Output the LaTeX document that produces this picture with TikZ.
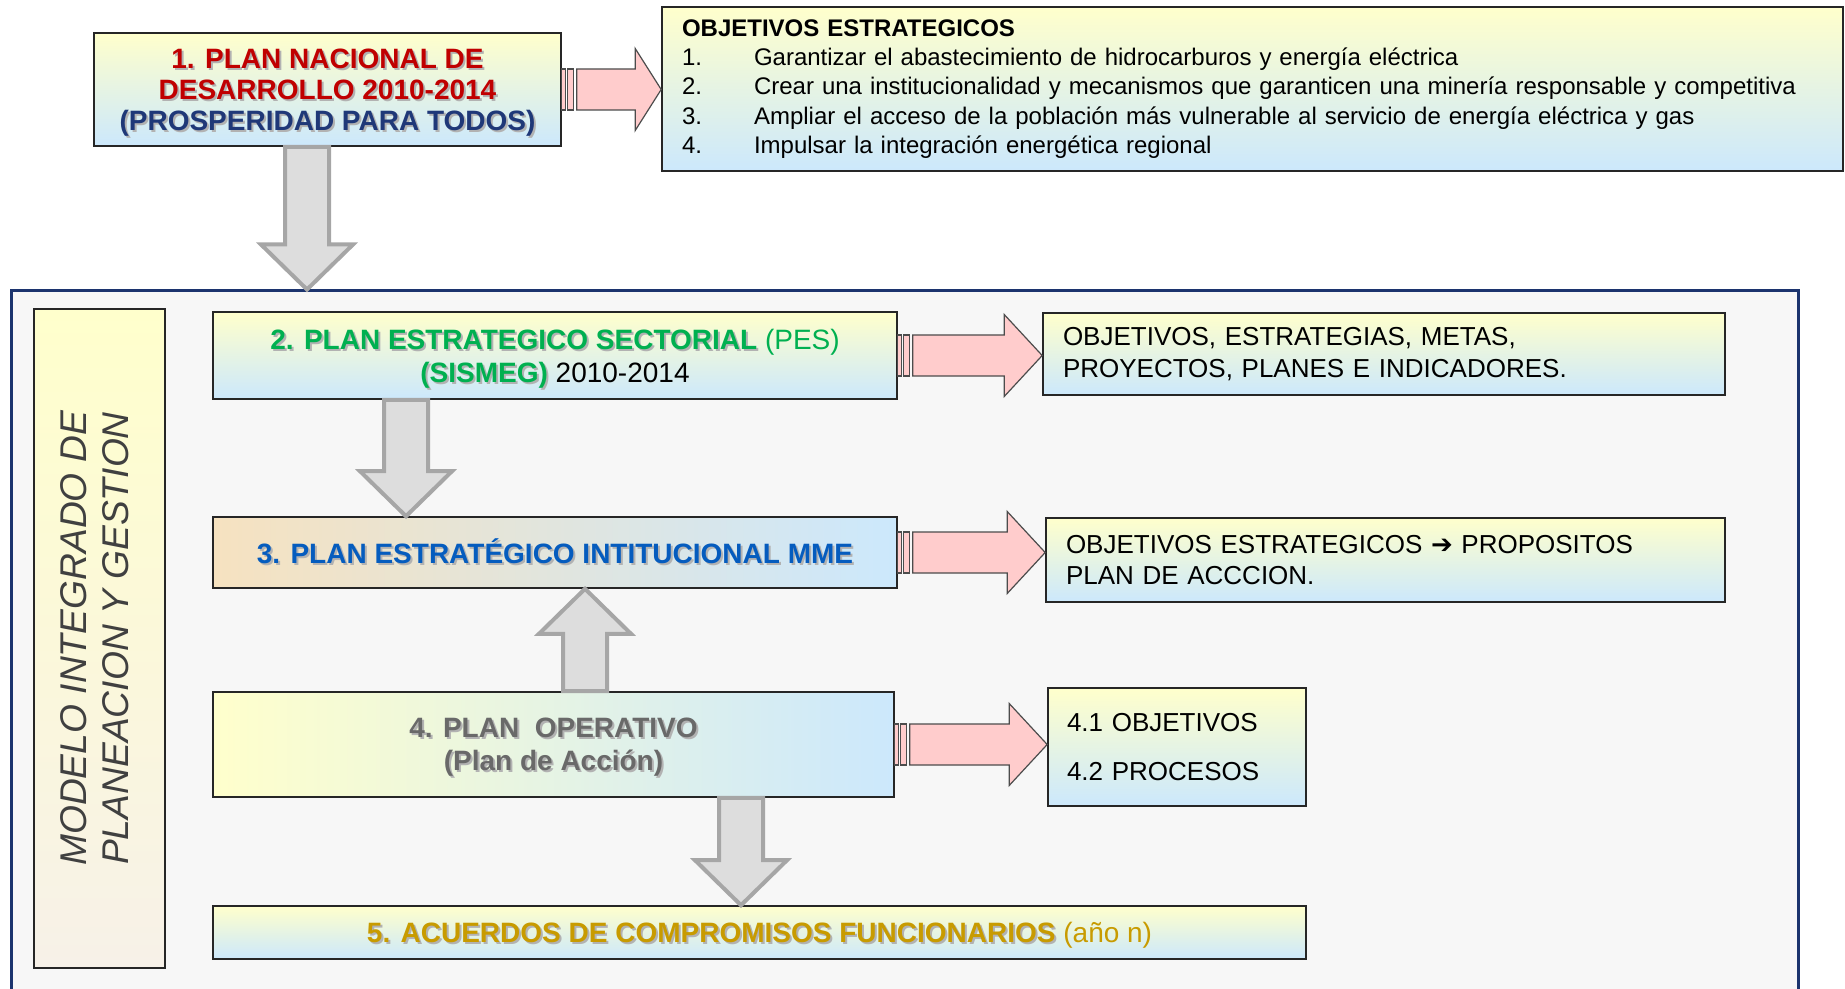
\documentclass[tikz,border=0pt]{standalone}
\usepackage{fontspec}
\setmainfont{Liberation Sans}
\newfontfamily\symfont{DejaVu Sans}
\usepackage{graphicx}
\usepackage{tikz}
\usetikzlibrary{calc}

\definecolor{ylw}{RGB}{255,255,204}
\definecolor{lblu}{RGB}{204,232,252}
\definecolor{peach}{RGB}{246,226,192}
\definecolor{beige}{RGB}{247,241,232}
\definecolor{redtxt}{RGB}{192,0,0}
\definecolor{navytxt}{RGB}{31,56,120}
\definecolor{greentxt}{RGB}{0,176,80}
\definecolor{bluetxt}{RGB}{5,92,190}
\definecolor{graytxt}{RGB}{105,105,105}
\definecolor{goldtxt}{RGB}{200,155,0}
\definecolor{labtxt}{RGB}{64,64,64}
\definecolor{framebd}{RGB}{28,52,110}
\definecolor{framebg}{RGB}{247,247,247}
\definecolor{pinkfill}{RGB}{255,204,204}
\definecolor{arrowfill}{RGB}{221,221,221}
\definecolor{arrowbd}{RGB}{166,166,166}

\newcommand{\shad}[2]{\leavevmode\rlap{\kern1pt\raisebox{-1pt}{\textcolor{black!30}{#2}}}\textcolor{#1}{#2}}

\newcommand{\stripearrow}[3]{%
  \coordinate (sa) at (#1.east);
  \coordinate (sb) at (#2.west |- #1.east);
  \draw[pinkarrow] ($(sa)+(0,-20.5)$) rectangle ($(sa)+(4,20.5)$);
  \draw[pinkarrow] ($(sa)+(6,-20.5)$) rectangle ($(sa)+(12,20.5)$);
  \draw[pinkarrow] ($(sa)+(15,-20.5)$) -- ($(sb)+(-#3,-20.5)$) -- ($(sb)+(-#3,-41)$) -- (sb)
    -- ($(sb)+(-#3,41)$) -- ($(sb)+(-#3,20.5)$) -- ($(sa)+(15,20.5)$) -- cycle;
}

\newcommand{\blockarrow}[2]{%
  \coordinate (ga) at (#1);
  \coordinate (gb) at (#2);
  \coordinate (gh) at ($(gb)!22.5pt!(ga)$);
  \draw[grayarrow] ($(ga)!11pt!90:(gb)$) -- ($(gh)!11pt!90:(gb)$) -- ($(gh)!23pt!90:(gb)$) -- (gb)
    -- ($(gh)!23pt!-90:(gb)$) -- ($(gh)!11pt!-90:(gb)$) -- ($(ga)!11pt!-90:(gb)$) -- cycle;
}

\begin{document}
\begin{tikzpicture}[x=0.5pt,y=-0.5pt]

\tikzset{planv/.style = {shape=rectangle,draw=black!85,line width=0.8pt,inner sep=0pt,
  top color=ylw,bottom color=lblu,align=center}}
\tikzset{planh/.style = {shape=rectangle,draw=black!85,line width=0.8pt,inner sep=0pt,
  left color=ylw,right color=lblu,align=center}}
\tikzset{pinkarrow/.style = {fill=pinkfill,draw=black!70,line width=0.6pt}}
\tikzset{grayarrow/.style = {fill=arrowfill,draw=arrowbd,line width=2pt,line join=miter}}

\useasboundingbox (0,0) rectangle (1845,989);
\clip (0,0) rectangle (1845,989);

\node[draw=framebd,line width=1.5pt,fill=framebg,inner sep=0pt,
  minimum width=893.5pt,minimum height=354.5pt] (frame) at (904.5,645.5) {};

\node[planv,minimum width=233.5pt,minimum height=56.5pt,text depth=0pt,
  font=\fontsize{14}{15.6}\selectfont\bfseries] (n1) at (327.5,89.5)
  {\shad{redtxt}{1. PLAN NACIONAL DE}\\
   \shad{redtxt}{DESARROLLO 2010-2014}\\
   \shad{navytxt}{(PROSPERIDAD PARA TODOS)}};

\node[planv,minimum width=590.5pt,minimum height=82pt,text width=570.5pt,align=left,
  font=\fontsize{12}{14.7}\selectfont] (obj) at (1252.5,89)
  {{\bfseries OBJETIVOS ESTRATEGICOS}\\
   \makebox[36pt][l]{1.}Garantizar el abastecimiento de hidrocarburos y energía eléctrica\\
   \makebox[36pt][l]{2.}Crear una institucionalidad y mecanismos que garanticen una minería responsable y competitiva\\
   \makebox[36pt][l]{3.}Ampliar el acceso de la población más vulnerable al servicio de energía eléctrica y gas\\
   \makebox[36pt][l]{4.}Impulsar la integración energética regional};

\node[planv,top color=ylw,bottom color=beige,minimum width=65.5pt,minimum height=329.5pt] (lab) at (99.5,638.5)
  {\rotatebox{90}{\fontsize{18.6}{21}\selectfont\itshape\color{labtxt}%
   \begin{tabular}{@{}c@{}}MODELO INTEGRADO DE\\ PLANEACION Y GESTION\end{tabular}}};

\node[planv,minimum width=342pt,minimum height=43.5pt,text depth=0pt,
  font=\fontsize{14}{16.5}\selectfont] (n2) at (555,355.5)
  {\shad{greentxt}{\bfseries 2. PLAN ESTRATEGICO SECTORIAL} \textcolor{greentxt}{(PES)}\\
   \shad{greentxt}{\bfseries (SISMEG)} 2010-2014};

\node[planv,minimum width=341pt,minimum height=41pt,text width=321pt,align=left,
  font=\fontsize{13}{16}\selectfont] (r2) at (1384,354)
  {OBJETIVOS, ESTRATEGIAS, METAS,\\
   PROYECTOS, PLANES E INDICADORES.};

\node[planh,left color=peach,right color=lblu,minimum width=342pt,minimum height=35.5pt,
  font=\fontsize{14}{16}\selectfont\bfseries] (n3) at (555,552.5)
  {\shad{bluetxt}{3. PLAN ESTRATÉGICO INTITUCIONAL MME}};

\node[planv,minimum width=339.5pt,minimum height=42pt,text width=319.5pt,align=left,
  font=\fontsize{13}{15.5}\selectfont] (r3) at (1385.5,560)
  {OBJETIVOS ESTRATEGICOS {\symfont ➔} PROPOSITOS\\
   PLAN DE ACCCION.};

\node[planh,minimum width=340.5pt,minimum height=52.5pt,text depth=0pt,
  font=\fontsize{14}{16.5}\selectfont\bfseries] (n4) at (553.5,744.5)
  {\shad{graytxt}{4. PLAN\ \ OPERATIVO}\\
   \shad{graytxt}{(Plan de Acción)}};

\node[planv,minimum width=129pt,minimum height=59pt,text width=110pt,align=left,
  font=\fontsize{13}{24.5}\selectfont] (r4) at (1177,747)
  {4.1 OBJETIVOS\\
   4.2 PROCESOS};

\node[planv,minimum width=546.5pt,minimum height=26.5pt,text depth=0pt,
  font=\fontsize{14}{16}\selectfont] (n5) at (759.5,932.5)
  {\shad{goldtxt}{\bfseries 5. ACUERDOS DE COMPROMISOS FUNCIONARIOS} \textcolor{goldtxt}{(año n)}};

\stripearrow{n1}{obj}{26}
\stripearrow{n2}{r2}{38}
\stripearrow{n3}{r3}{38}
\stripearrow{n4}{r4}{38}

\blockarrow{307,0 |- n1.south}{307,0 |- frame.north}
\blockarrow{406,0 |- n2.south}{406,0 |- n3.north}
\blockarrow{585,0 |- n4.north}{585,0 |- n3.south}
\blockarrow{741,0 |- n4.south}{741,0 |- n5.north}

\end{tikzpicture}
\end{document}
